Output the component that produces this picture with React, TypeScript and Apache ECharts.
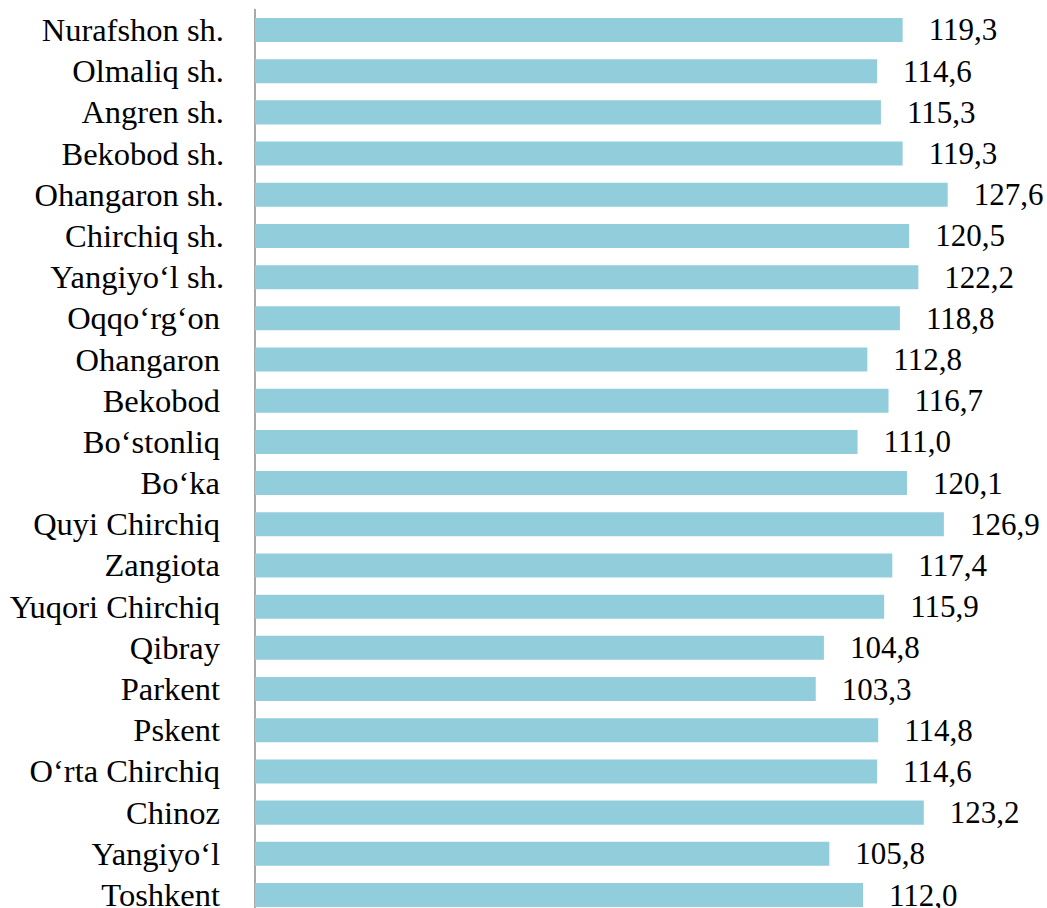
import React, { useEffect, useRef } from "react";
import * as echarts from "echarts";

const categories: string[] = [
  "Nurafshon sh.",
  "Olmaliq sh.",
  "Angren sh.",
  "Bekobod sh.",
  "Ohangaron sh.",
  "Chirchiq sh.",
  "Yangiyo‘l sh.",
  "Oqqo‘rg‘on",
  "Ohangaron",
  "Bekobod",
  "Bo‘stonliq",
  "Bo‘ka",
  "Quyi Chirchiq",
  "Zangiota",
  "Yuqori Chirchiq",
  "Qibray",
  "Parkent",
  "Pskent",
  "O‘rta Chirchiq",
  "Chinoz",
  "Yangiyo‘l",
  "Toshkent",
];

const values: number[] = [
  119.3, 114.6, 115.3, 119.3, 127.6, 120.5, 122.2, 118.8, 112.8, 116.7, 111.0,
  120.1, 126.9, 117.4, 115.9, 104.8, 103.3, 114.8, 114.6, 123.2, 105.8, 112.0,
];

const FONT = "Liberation Serif, Times New Roman, DejaVu Serif, serif";

export default function App() {
  const ref = useRef<HTMLDivElement>(null);
  useEffect(() => {
    if (!ref.current) return;
    const chart = echarts.init(ref.current, undefined, { renderer: "svg" });
    chart.setOption({
      animation: false,
      backgroundColor: "#ffffff",
      textStyle: { fontFamily: FONT },
      grid: {
        left: 255,
        right: 32,
        top: 9.4,
        height: 906.2,
        containLabel: false,
        outerBoundsMode: "none",
      },
      xAxis: {
        type: "value",
        min: 0,
        max: 140,
        show: false,
        splitLine: { show: false },
      },
      yAxis: {
        type: "category",
        data: categories,
        inverse: true,
        axisTick: { show: false },
        axisLine: { show: true, lineStyle: { color: "#8c8c8c", width: 1.5 } },
        axisLabel: {
          interval: 0,
          hideOverlap: false,
          margin: 31,
          color: "#000000",
          fontFamily: FONT,
          fontSize: 32.5,
          lineHeight: 34,
          formatter: (v: string) => (v.endsWith("sh.") ? v : `{p|${v}}`),
          rich: {
            p: {
              fontFamily: FONT,
              fontSize: 32.5,
              lineHeight: 34,
              color: "#000000",
              padding: [0, 4, 0, 0],
            },
          },
        },
      },
      series: [
        {
          type: "bar",
          data: values,
          barCategoryGap: "41.7%",
          itemStyle: { color: "#92CDDC" },
          label: {
            show: true,
            position: "right",
            distance: 26,
            color: "#000000",
            fontFamily: FONT,
            fontSize: 31,
            formatter: (p: any) => Number(p.value).toFixed(1).replace(".", ","),
          },
        },
      ],
    });
    return () => chart.dispose();
  }, []);
  return (
    <div
      ref={ref}
      style={{ position: "absolute", left: 0, top: 0, width: 1047, height: 908 }}
    />
  );
}
